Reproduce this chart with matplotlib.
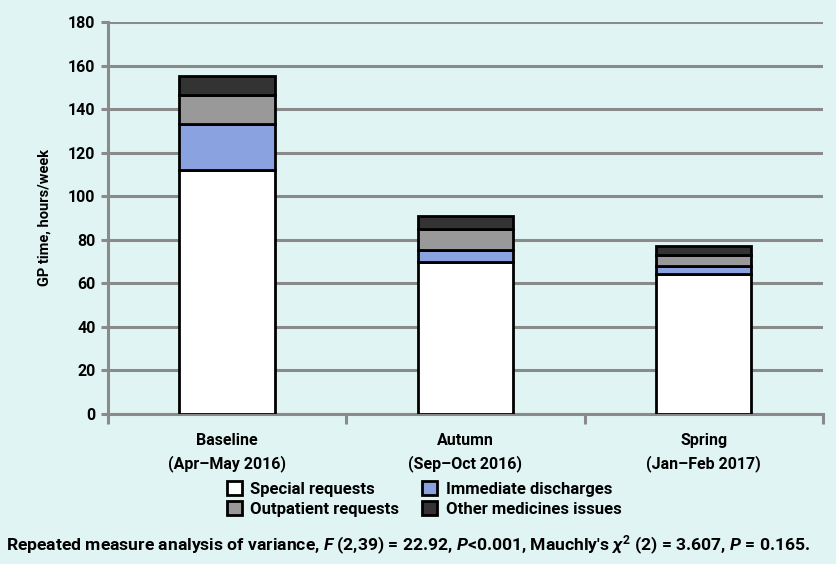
import matplotlib.pyplot as plt
from matplotlib.patches import Patch

plt.rcParams["font.family"] = ["Roboto", "DejaVu Sans"]
plt.rcParams["font.weight"] = "bold"
plt.rcParams["mathtext.fontset"] = "custom"
plt.rcParams["mathtext.rm"] = "Roboto:bold"
plt.rcParams["mathtext.it"] = "Roboto:italic:bold"
plt.rcParams["mathtext.bf"] = "Roboto:bold"

periods = ["Baseline\n(Apr\u2013May 2016)", "Autumn\n(Sep\u2013Oct 2016)", "Spring\n(Jan\u2013Feb 2017)"]
special_requests = [112, 70, 64.5]
immediate_discharges = [21, 5.5, 3.5]
outpatient_requests = [13.5, 9.5, 5]
other_issues = [8.5, 6, 4]

series = [
    ("Special requests", special_requests, "#ffffff"),
    ("Immediate discharges", immediate_discharges, "#8aa2e0"),
    ("Outpatient requests", outpatient_requests, "#999999"),
    ("Other medicines issues", other_issues, "#333333"),
]

bg = "#dff4f3"
grey = "#8a8a8a"

fig = plt.figure(figsize=(8.37, 5.64), dpi=100, facecolor=bg)
ax = fig.add_axes([0.129, 0.266, 0.854, 0.695], facecolor=bg)

x = range(len(periods))
bottom = [0] * len(periods)
for name, vals, col in series:
    ax.bar(x, vals, 0.4, bottom=bottom, color=col, edgecolor="black",
           linewidth=2, zorder=3)
    bottom = [b + v for b, v in zip(bottom, vals)]

ax.set_xlim(-0.5, 2.5)
ax.set_ylim(0, 180)
ax.set_yticks(range(0, 181, 20))
ax.yaxis.grid(True, color=grey, linewidth=2.2, zorder=0)
ax.set_axisbelow(True)

ax.set_xticks([-0.5, 0.5, 1.5, 2.5])
ax.set_xticklabels([])
ax.set_xticks(list(x), minor=True)
ax.set_xticklabels(periods, minor=True, fontsize=11.5, fontweight="bold",
                   linespacing=1.5)
ax.tick_params(axis="x", which="major", length=7, width=2.2, color=grey, direction="out")
ax.tick_params(axis="x", which="minor", length=0, pad=14)
ax.tick_params(axis="y", length=5, width=2.2, color=grey, labelsize=11.5, pad=4)

for s in ["top", "right"]:
    ax.spines[s].set_visible(False)
for s in ["left", "bottom"]:
    ax.spines[s].set_color(grey)
    ax.spines[s].set_linewidth(2.2)

ax.set_ylabel("GP time, hours/week", fontsize=10.5, fontweight="bold", labelpad=12)

handles = [Patch(facecolor=col, edgecolor="black", linewidth=2, label=name)
           for name, _, col in series]
order = [0, 2, 1, 3]
fig.legend([handles[i] for i in order], [series[i][0] for i in order],
           loc="center", bbox_to_anchor=(424 / 837, 1 - 499 / 564), ncol=2,
           frameon=False, fontsize=12, handlelength=0.9, handleheight=0.9,
           handletextpad=0.5, columnspacing=1.4, labelspacing=0.25)

fig.text(408 / 837, 1 - 545 / 564,
         "Repeated measure analysis of variance, $\\mathit{F}$ (2,39) = 22.92, "
         "$\\mathit{P}$<0.001, Mauchly's $\\chi^2$ (2) = 3.607, $\\mathit{P}$ = 0.165.",
         ha="center", va="center", fontsize=12.6, fontweight="bold")

fig.savefig("out.png", dpi=100, facecolor=bg)
